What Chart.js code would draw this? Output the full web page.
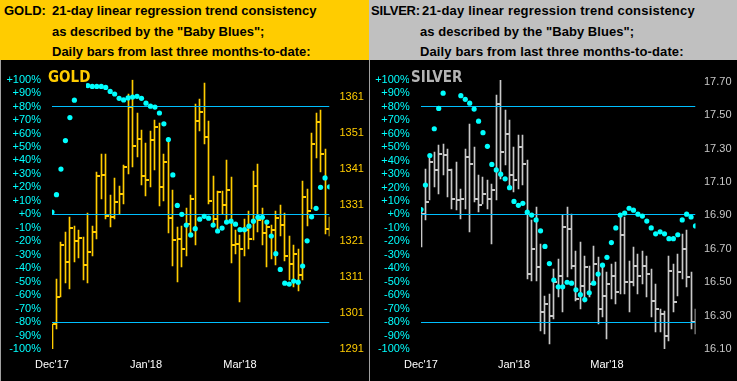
<!DOCTYPE html>
<html><head><meta charset="utf-8">
<script src="https://cdn.jsdelivr.net/npm/chart.js@4.4.1/dist/chart.umd.min.js"></script>
<style>
html,body{margin:0;padding:0;background:#000;}
#wrap{position:relative;width:737px;height:381px;overflow:hidden;background:#000;}
.hdr{position:absolute;top:0;height:60px;}
.hdr span{position:absolute;font:bold 13px 'Liberation Sans',Arial,sans-serif;color:#000;line-height:15px;white-space:pre;}
.pane{position:absolute;top:62px;height:319px;}
.vb{position:absolute;top:60px;width:1px;height:321px;background:#A0A0A0;}
</style></head>
<body><div id="wrap">
<div class="hdr" style="left:0;width:369px;background:#FFCC00">
  <span style="left:4px;top:3px">GOLD:</span>
  <span style="left:52px;top:3px">21-day linear regression trend consistency</span>
  <span style="left:52px;top:24px">as described by the "Baby Blues";</span>
  <span style="left:52px;top:44px">Daily bars from last three months-to-date:</span>
</div>
<div class="hdr" style="left:369px;width:368px;background:#C0C0C0">
  <span style="left:2px;top:3px;letter-spacing:-0.2px">SILVER:</span>
  <span style="left:53px;top:3px;letter-spacing:0.2px">21-day linear regression trend consistency</span>
  <span style="left:51px;top:24px;letter-spacing:0.05px">as described by the "Baby Blues";</span>
  <span style="left:51px;top:44px;letter-spacing:0.12px">Daily bars from last three months-to-date:</span>
</div>
<div class="pane" style="left:0;width:368px"><canvas id="c1" width="368" height="319"></canvas></div>
<div class="pane" style="left:368px;width:369px"><canvas id="c2" width="369" height="319"></canvas></div>
<div class="vb" style="left:0"></div>
<div class="vb" style="left:369px"></div>
</div>
<script>
// ---------- DATA ----------
const xTickPos = [0, 21, 42];
const xTickLabels = ["Dec'17", "Jan'18", "Mar'18"];
const pctTicks = [-100,-90,-80,-70,-60,-50,-40,-30,-20,-10,0,10,20,30,40,50,60,70,80,90,100];
const refLevels = [80, 0, -80];

const goldPriceTicks = [1291,1301,1311,1321,1331,1341,1351,1361];
const goldHigh = [1297.9,1310.4,1320.7,1323.5,1327.8,1325.1,1324.2,1322.1,1328.9,1325.1,
  1340.3,1345.3,1345.1,1333.9,1338.5,1336.4,1342.2,1362.0,1365.9,1356.6,
  1352.0,1348.4,1351.5,1354.7,1353.8,1345.3,1349.6,1335.3,1324.8,1325.3,
  1330.3,1333.9,1359.2,1360.6,1364.9,1354.5,1339.1,1335.0,1334.9,1343.5,
  1338.8,1324.1,1322.8,1327.1,1329.4,1340.5,1342.4,1330.3,1326.2,1325.5,
  1329.4,1330.9,1328.8,1322.4,1320.0,1318.7,1337.6,1335.6,1351.0,1356.6,
  1357.5,1346.7,1327.7];
const goldLow = [1291.1,1296.6,1305.5,1309.3,1307.8,1315.1,1316.2,1310.2,1309.3,1316.9,
  1321.5,1332.6,1327.1,1325.0,1327.1,1328.5,1331.2,1339.7,1341.7,1344.4,
  1336.7,1333.5,1336.0,1340.8,1330.8,1332.1,1323.3,1314.1,1309.6,1313.7,
  1316.8,1322.1,1319.8,1351.5,1347.9,1331.2,1325.7,1323.9,1328.5,1326.7,
  1314.8,1317.3,1304.2,1316.8,1318.9,1321.4,1323.6,1320.0,1313.7,1315.9,
  1314.3,1322.3,1315.4,1310.2,1308.2,1307.2,1310.2,1325.3,1329.8,1344.2,
  1340.3,1323.0,1322.3];
const goldClose = [1297.9,1305.5,1319.8,1315.1,1324.7,1320.9,1321.8,1314.3,1317.9,1323.6,
  1339.0,1339.5,1328.0,1327.7,1331.9,1334.0,1341.7,1358.3,1347.4,1349.4,
  1339.2,1338.1,1349.0,1352.6,1336.0,1343.1,1327.5,1321.2,1321.5,1318.7,
  1325.7,1332.6,1354.3,1357.0,1349.9,1332.1,1327.1,1334.6,1331.0,1335.3,
  1319.8,1320.1,1318.7,1324.2,1321.5,1336.2,1326.9,1323.2,1324.8,1324.2,
  1327.5,1325.6,1316.9,1314.6,1317.4,1311.6,1333.2,1329.4,1347.9,1354.0,
  1345.3,1324.4,1325.6];
const goldBlues = [1.7,14.6,33.6,54.7,71.8,84.7,null,null,95.6,94.9,
  94.9,94.9,94.2,91.2,89.3,86.1,84.9,86.4,87.1,87.6,
  86.1,82.5,80.3,79.6,75.2,67.2,55.5,29.2,6.6,0,
  -8.0,-15.3,-10.7,-3.6,-1.5,-2.9,-8.0,-12.4,-10.2,-5.8,
  -5.1,-7.3,-11.4,-11.4,-8.8,-5.1,-2.2,-2.2,-5.8,-16.1,
  -29.2,-40.9,-51.1,-51.8,-49.6,-50.4,-38.4,-19.7,-1.9,4.4,
  20.0,27.0,20.4];

const silverPriceTicks = [16.10,16.30,16.50,16.70,16.90,17.10,17.30,17.50,17.70];
const silverHigh = [16.92,17.18,17.25,17.28,17.32,17.33,17.30,17.18,17.22,17.06,
  17.30,17.45,17.31,17.14,17.13,17.11,17.09,17.62,17.71,17.53,
  17.47,17.31,17.38,17.38,17.23,16.87,16.95,16.73,16.42,16.43,
  16.58,16.64,16.90,16.95,16.91,16.69,16.74,16.66,16.60,16.72,
  16.65,16.61,16.56,16.61,16.62,16.89,16.89,16.63,16.71,16.67,
  16.69,16.66,16.58,16.49,16.34,16.33,16.66,16.61,16.67,16.79,
  16.81,16.56,16.34];
const silverLow = [16.71,16.87,16.99,17.07,17.03,17.14,17.01,16.94,16.93,16.88,
  16.94,16.80,16.98,16.92,16.97,16.94,16.73,16.99,17.12,17.20,
  17.07,17.04,17.06,17.08,16.52,16.51,16.51,16.21,16.19,16.13,
  16.28,16.41,16.32,16.53,16.58,16.39,16.34,16.38,16.41,16.49,
  16.25,16.29,16.16,16.40,16.37,16.43,16.43,16.32,16.48,16.43,
  16.49,16.41,16.29,16.20,16.20,16.10,16.15,16.32,16.42,16.52,
  16.47,16.22,16.19];
const silverClose = [16.91,16.98,17.22,17.17,17.27,17.26,17.17,17.00,16.99,17.00,
  17.25,17.21,17.00,16.96,17.03,17.00,17.05,17.57,17.28,17.39,
  17.14,17.11,17.31,17.21,16.55,16.70,16.59,16.32,16.37,16.30,
  16.50,16.54,16.83,16.82,16.60,16.40,16.48,16.59,16.49,16.61,
  16.34,16.42,16.49,16.54,16.44,16.78,16.50,16.50,16.60,16.54,
  16.60,16.55,16.39,16.34,16.31,16.18,16.57,16.38,16.56,16.70,
  16.53,16.26,16.34];
const silverBlues = [3.6,21.9,43.8,63.7,78.8,90.1,null,null,null,88.3,
  85.6,82.7,78.3,69.3,60.8,50.6,37.2,33.1,29.9,26.5,
  19.9,9.7,6.8,8.3,1.7,-0.5,-4.1,-12.2,-23.8,-36.5,
  -48.7,-53.8,-53.8,-50.4,-51.1,-56.0,-59.6,-63.3,-58.2,-51.1,
  -44.3,-37.7,-31.9,-20.9,-10.0,-0.5,1.0,4.6,3.2,0.2,
  -1.2,-4.9,-10.0,-14.4,-12.9,-14.4,-18.0,-18.0,-15.1,-4.1,
  0.2,-1.9,-8.5];

// ---------- RENDER ----------
const FONT = "'Liberation Sans', Arial, sans-serif";
const CYAN = '#00FFFF', LINE = '#00BFFF';

function tickImg(color){
  const c = document.createElement('canvas'); c.width = 9; c.height = 2;
  const g = c.getContext('2d'); g.fillStyle = color; g.fillRect(5,0,3,2); return c;
}

// snap element pixel positions (computed by the scales) to the device pixel grid for crisp 1px strokes
const pixelSnap = {
  id: 'pixelSnap',
  afterDatasetsUpdate(chart){
    chart.data.datasets.forEach((ds, di) => {
      const meta = chart.getDatasetMeta(di);
      meta.data.forEach(el => {
        if (meta.type === 'bar') { el.x = Math.floor(el.x) + 0.5; el.y = Math.round(el.y); el.base = Math.round(el.base); }
        else if (ds.snap === 'line') { el.y = Math.floor(el.y) + 0.5; }
        else if (ds.snap === 'tick') { el.x = Math.floor(el.x) + 0.5; el.y = Math.round(el.y); }
      });
    });
  }
};

const panelLabel = {
  id: 'panelLabel',
  afterDatasetsDraw(chart, args, o){
    const ctx = chart.ctx; ctx.save();
    ctx.fillStyle = '#000'; ctx.fillRect(o.box[0], o.box[1], o.box[2], o.box[3]);
    ctx.font = o.font; ctx.fillStyle = o.color; ctx.textBaseline = 'alphabetic';
    ctx.fillText(o.text, o.x, o.y); ctx.restore();
  }
};

function makeChart(id, cfg){
  const n = cfg.high.length;
  const bars = cfg.high.map((h,i)=>({x:i, y:[cfg.low[i], h]}));
  const closes = cfg.close.map((c,i)=>({x:i, y:c}));
  const blues = cfg.blues.map((b,i)=>({x:i, y:b}));
  const refs = refLevels.map(l => ({
    type:'line', snap:'line', data:[{x:0,y:l},{x:n-1,y:l}], yAxisID:'y', xAxisID:'x',
    borderColor: LINE, borderWidth: 1, pointRadius: 0, fill:false
  }));
  const datasets = [
    {type:'line', data: blues, yAxisID:'y', xAxisID:'x', showLine:false,
     pointRadius:2.6, pointStyle:'circle', pointBackgroundColor:CYAN, pointBorderWidth:0, spanGaps:false},
    ...refs,
    {type:'line', snap:'tick', data: closes, yAxisID:'y2', xAxisID:'x', showLine:false,
     pointStyle: tickImg(cfg.barColor), pointRadius: 3},
    {type:'bar', data: bars, yAxisID:'y2', xAxisID:'x', backgroundColor: cfg.barColor,
     barThickness: 1, grouped:false, borderWidth:0}
  ];
  return new Chart(document.getElementById(id), {
    type:'bar',
    data:{datasets},
    options:{
      responsive:false, animation:false, devicePixelRatio:1,
      layout:{padding:{top:13, left:0, right:0, bottom:0}},
      plugins:{legend:{display:false}, tooltip:{enabled:false},
        panelLabel: cfg.label},
      scales:{
        x:{type:'linear', position:'bottom', min:0, max:n-1, offset:false,
          grid:{display:false, drawTicks:false}, border:{display:false},
          afterBuildTicks: s => { s.ticks = xTickPos.map(v=>({value:v})); },
          afterFit: s => { s.height = 32; },
          ticks:{color:'#FFFFFF', font:{family:FONT, size:11}, padding:9, maxRotation:0, autoSkip:false,
            callback: v => xTickLabels[xTickPos.indexOf(v)] }},
        y:{type:'linear', position:'left', min:-100, max:100,
          grid:{display:false, drawTicks:false}, border:{display:false},
          afterBuildTicks: s => { s.ticks = pctTicks.map(v=>({value:v})); },
          afterFit: s => { s.width = cfg.leftW; },
          ticks:{color:CYAN, font:{family:FONT, size:11}, padding:cfg.leftPad, autoSkip:false,
            callback: v => (v>=0?'+':'') + v + '%'}},
        y2:{type:'linear', position:'right', min:cfg.pmin, max:cfg.pmax,
          grid:{display:false, drawTicks:false}, border:{display:false},
          afterBuildTicks: s => { s.ticks = cfg.pticks.map(v=>({value:v})); },
          afterFit: s => { s.width = cfg.rightW; },
          ticks:{color:cfg.tickColor, font:{family:FONT, size:11}, padding:cfg.rightPad, autoSkip:false,
            callback: v => v.toFixed(cfg.dec)}}
      }
    },
    plugins:[pixelSnap, panelLabel]
  });
}

makeChart('c1', {high:goldHigh, low:goldLow, close:goldClose, blues:goldBlues,
  barColor:'#FFCC00', tickColor:'#FFCC00', pmin:1291, pmax:1365.9, pticks:goldPriceTicks, dec:0,
  leftW:52, leftPad:11, rightW:38.5, rightPad:10,
  label:{text:'GOLD', color:'#FFCC00', font:"bold 15px 'Liberation Sans Narrow', 'DejaVu Sans Condensed', sans-serif",
    x:48, y:19.5, box:[46,4,40,22.5]}});

makeChart('c2', {high:silverHigh, low:silverLow, close:silverClose, blues:silverBlues,
  barColor:'#C8C8C8', tickColor:'#C8C8C8', pmin:16.10, pmax:17.712, pticks:silverPriceTicks, dec:2,
  leftW:53, leftPad:11.3, rightW:41.5, rightPad:8.5,
  label:{text:'SILVER', color:'#B4B4B4', font:"bold 15px 'Liberation Sans Narrow', 'DejaVu Sans Condensed', sans-serif",
    x:43, y:19.5, box:[41,4,51,22.8]}});
</script>
</body></html>
